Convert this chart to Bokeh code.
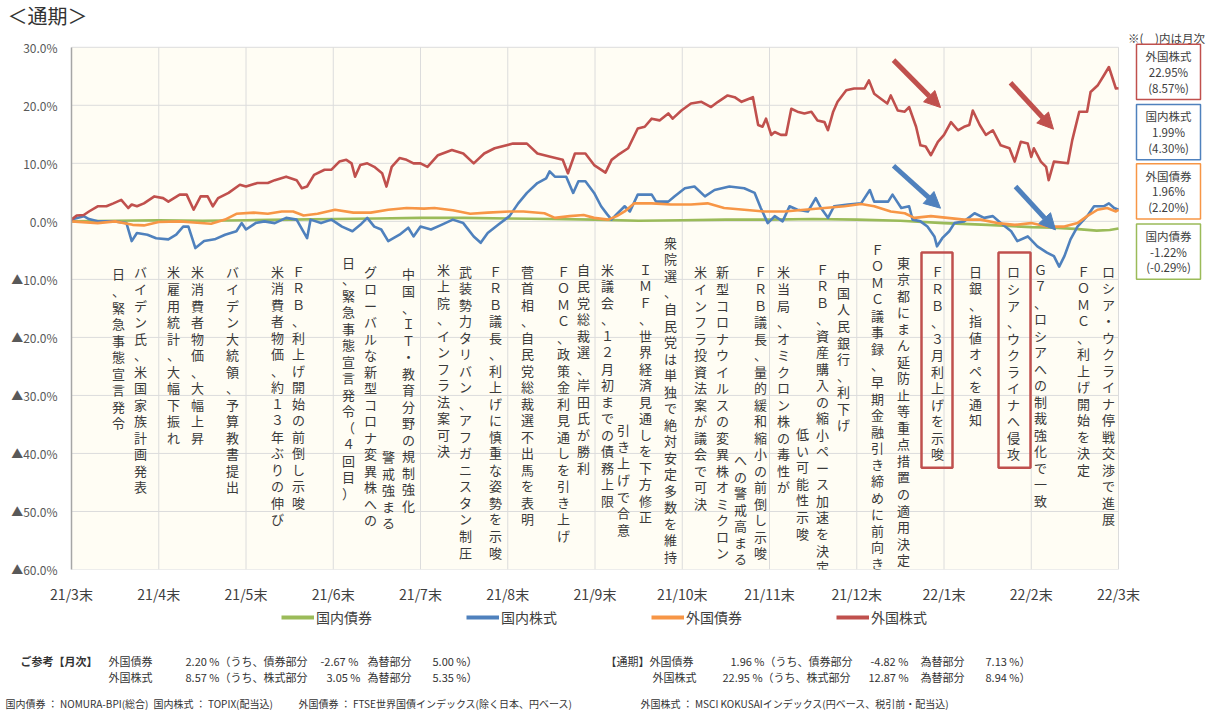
from bokeh.plotting import figure
from bokeh.layouts import column
from bokeh.models import (Range1d, FixedTicker, Arrow, NormalHead, Legend, LegendItem)
from bokeh.core.properties import value
from bokeh.embed import file_html
from bokeh.resources import INLINE

FONT = "Noto Sans CJK JP"

# ---------------- data ----------------
month_labels = ["21/3末", "21/4末", "21/5末", "21/6末", "21/7末", "21/8末", "21/9末",
                "21/10末", "21/11末", "21/12末", "22/1末", "22/2末", "22/3末"]
y_ticks = [30, 20, 10, 0, -10, -20, -30, -40, -50, -60]
y_tick_labels = ["30.0%", "20.0%", "10.0%", "0.0%", "▲10.0%", "▲20.0%", "▲30.0%",
                 "▲40.0%", "▲50.0%", "▲60.0%"]

# 外国株式 (red)
red_month = [0, 0.06, 0.14, 0.2, 0.3, 0.4, 0.48, 0.57, 0.65, 0.69, 0.75, 0.83, 0.95, 1.05, 1.11,
             1.24, 1.32, 1.4, 1.48, 1.56, 1.62, 1.68, 1.8, 1.93, 2.0, 2.13, 2.25, 2.33, 2.46, 2.58,
             2.64, 2.7, 2.78, 2.9, 2.98, 3.07, 3.15, 3.21, 3.25, 3.31, 3.39, 3.47, 3.56, 3.61, 3.67,
             3.76, 3.84, 3.92, 4.0, 4.08, 4.2, 4.36, 4.49, 4.61, 4.73, 4.85, 5.06, 5.22, 5.34, 5.5,
             5.63, 5.69, 5.77, 5.89, 5.99, 6.12, 6.19, 6.26, 6.38, 6.49, 6.57, 6.65, 6.74, 6.84,
             6.89, 6.99, 7.1, 7.22, 7.33, 7.41, 7.52, 7.6, 7.68, 7.81, 7.87, 7.92, 7.96, 8.02, 8.06,
             8.13, 8.19, 8.25, 8.32, 8.4, 8.48, 8.55, 8.63, 8.67, 8.73, 8.78, 8.88, 8.97, 9.09, 9.14,
             9.2, 9.28, 9.35, 9.39, 9.47, 9.55, 9.6, 9.68, 9.73, 9.79, 9.85, 9.93, 10.0, 10.08,
             10.16, 10.23, 10.29, 10.33, 10.41, 10.48, 10.56, 10.65, 10.75, 10.81, 10.88, 10.96,
             11.0, 11.03, 11.11, 11.17, 11.2, 11.26, 11.42, 11.47, 11.55, 11.64, 11.68, 11.76,
             11.83, 11.89, 11.97, 12.0]
red_pct = [0.3, 1.0, 1.1, 1.7, 2.6, 2.6, 3.1, 3.7, 2.3, 2.9, 2.6, 3.1, 4.3, 4.0, 3.4,
           4.6, 4.6, 2.0, 4.3, 4.3, 2.6, 4.0, 4.9, 6.3, 6.0, 6.6, 6.6, 7.1, 7.7, 7.1,
           5.7, 6.0, 8.0, 8.9, 8.9, 10.3, 10.6, 10.0, 7.7, 9.7, 10.0, 9.4, 8.3, 6.0, 9.4,
           10.9, 10.6, 10.0, 10.0, 9.4, 11.4, 12.3, 11.7, 10.0, 11.7, 12.6, 13.4, 13.4, 11.7, 11.1,
           10.6, 8.3, 11.7, 11.7, 9.7, 8.4, 10.6, 11.4, 12.6, 16.0, 16.3, 17.7, 17.4, 18.6,
           17.7, 19.1, 20.3, 20.6, 19.7, 20.6, 21.7, 21.4, 20.6, 21.4, 16.6, 16.3, 17.7, 14.9, 15.4,
           14.9, 14.9, 19.4, 18.9, 18.6, 18.9, 17.4, 17.1, 15.7, 18.9, 20.6, 22.6, 22.9, 22.9, 24.3,
           22.0, 21.1, 20.3, 21.7, 19.1, 18.9, 19.7, 16.3, 13.1, 12.9, 11.4, 13.7, 14.9, 17.1,
           15.7, 16.3, 16.6, 19.1, 16.6, 14.9, 15.7, 13.1, 12.6, 10.3, 13.7, 13.4,
           11.1, 12.6, 10.3, 9.4, 7.1, 10.3, 10.0, 14.0, 18.9, 18.9, 22.3, 23.4,
           25.1, 26.6, 22.9, 22.95]

# 国内株式 (blue)
blue_month = [0, 0.14, 0.2, 0.3, 0.5, 0.63, 0.69, 0.75, 0.87, 0.97, 1.11, 1.2, 1.28, 1.34, 1.42,
              1.52, 1.64, 1.76, 1.89, 1.95, 2.0, 2.11, 2.21, 2.33, 2.46, 2.58, 2.7, 2.74, 2.86,
              2.98, 3.1, 3.22, 3.31, 3.39, 3.47, 3.55, 3.63, 3.76, 3.86, 3.92, 4.0, 4.12, 4.24,
              4.37, 4.49, 4.61, 4.69, 4.77, 4.89, 5.02, 5.12, 5.22, 5.34, 5.44, 5.48, 5.54, 5.67,
              5.75, 5.81, 5.89, 5.99, 6.07, 6.14, 6.19, 6.24, 6.34, 6.4, 6.49, 6.65, 6.7, 6.84,
              6.91, 7.03, 7.14, 7.26, 7.37, 7.54, 7.71, 7.83, 7.9, 7.98, 8.06, 8.15, 8.23, 8.32,
              8.44, 8.53, 8.59, 8.67, 8.74, 8.9, 9.05, 9.15, 9.2, 9.36, 9.41, 9.51, 9.6, 9.64,
              9.73, 9.81, 9.89, 9.92, 9.98, 10.06, 10.12, 10.23, 10.35, 10.46, 10.56, 10.65,
              10.77, 10.84, 10.96, 11.07, 11.18, 11.26, 11.32, 11.38, 11.45, 11.53, 11.64, 11.72,
              11.83, 11.89, 11.95, 12.0]
blue_pct = [0.3, 0.9, 0.4, 0.0, 0.0, -0.3, -3.4, -2.0, -2.3, -2.9, -3.1, -2.3, -0.9, -0.9, -4.6,
            -3.4, -3.1, -2.3, -1.7, -0.3, -1.4, -0.3, 0.0, -0.3, 0.6, 0.3, -2.9, 0.3, -0.3,
            0.3, -0.9, -1.7, -0.6, 0.6, -0.9, -1.4, -3.4, -2.3, -1.1, -2.6, -0.9, -1.4, -0.6,
            0.3, -0.3, -2.6, -3.7, -2.0, -0.6, 0.9, 3.1, 4.9, 6.6, 7.4, 8.6, 7.7, 7.7,
            4.9, 6.9, 6.9, 4.9, 2.6, 1.2, 0.3, 1.1, 2.6, 1.7, 4.6, 4.6, 3.4, 3.4,
            4.3, 5.7, 6.0, 4.3, 5.4, 6.0, 5.7, 4.9, 2.3, -0.3, 0.9, 0.0, 2.6, 2.0,
            1.7, 4.0, 2.3, 0.6, 2.6, 2.9, 3.1, 5.4, 3.4, 3.4, 4.6, 2.3, 2.6, 0.3,
            0.0, -0.9, -2.6, -4.3, -2.9, -1.7, -0.3, 0.0, 1.4, 0.6, 0.9, -0.3,
            -1.7, -3.4, -2.6, -4.3, -5.4, -6.0, -7.8, -6.0, -3.1, -0.9, 0.9, 2.6,
            2.6, 3.1, 2.3, 1.99]

# 外国債券 (orange)
orange_month = [0, 0.3, 0.5, 0.7, 0.83, 1.0, 1.24, 1.4, 1.6, 1.76, 1.89, 2.09, 2.25, 2.41, 2.54,
                2.66, 2.82, 3.02, 3.23, 3.43, 3.63, 3.84, 4.04, 4.16, 4.37, 4.57, 4.77, 5.02,
                5.18, 5.42, 5.54, 5.71, 5.87, 5.99, 6.15, 6.25, 6.34, 6.45, 6.65, 6.87, 7.1,
                7.29, 7.48, 7.71, 7.94, 8.17, 8.4, 8.63, 8.86, 9.05, 9.2, 9.39, 9.55, 9.66,
                9.85, 10.04, 10.23, 10.42, 10.61, 10.81, 11.0, 11.18, 11.38, 11.53, 11.64,
                11.76, 11.87, 11.97, 12.0]
orange_pct = [0.0, -0.3, 0.0, -0.6, -0.7, -0.1, 0.0, -0.2, -0.4, 0.3, 1.3, 1.5, 1.3, 1.7, 1.7,
              1.0, 1.3, 2.0, 1.5, 1.5, 2.0, 2.3, 2.2, 2.3, 1.9, 1.3, 1.5, 1.7,
              1.7, 1.4, 0.6, 0.9, 1.1, 0.6, 0.3, 0.9, 1.7, 3.1, 3.1, 2.9, 2.9,
              3.1, 2.3, 2.0, 1.7, 1.7, 2.0, 2.3, 2.6, 3.0, 2.6, 1.7, 1.4, 0.6,
              0.9, 0.6, 0.3, 0.3, -0.3, -0.6, -0.3, -0.9, -0.9, -0.3, 0.9,
              2.0, 2.3, 1.7, 1.96]

# 国内債券 (green)
green_month = [0, 0.5, 1, 1.5, 2, 2.5, 3, 3.5, 4, 4.5, 5, 5.5, 6, 6.5, 7, 7.5, 8, 8.5, 9, 9.5,
               10, 10.5, 11, 11.25, 11.5, 11.75, 11.9, 12]
green_pct = [0.0, 0.1, 0.2, 0.1, 0.2, 0.3, 0.4, 0.5, 0.6, 0.6, 0.5, 0.4, 0.3, 0.1, 0.2, 0.3,
             0.3, 0.4, 0.3, 0.1, -0.3, -0.6, -1.0, -1.1, -1.3, -1.6, -1.5, -1.22]

series_names = ["国内債券", "国内株式", "外国債券", "外国株式"]
series_colors = ["#9BBB59", "#4F81BD", "#F79646", "#C0504D"]

# right-hand summary boxes: name, period return, (monthly return)
box_names = ["外国株式", "国内株式", "外国債券", "国内債券"]
box_period = ["22.95%", "1.99%", "1.96%", "-1.22%"]
box_month = ["(8.57%)", "(4.30%)", "(2.20%)", "(-0.29%)"]
box_colors = ["#C0504D", "#4F81BD", "#F79646", "#9BBB59"]

# event annotations (vertical text)
ann_texts = ["日、緊急事態宣言発令", "バイデン氏、米国家族計画発表", "米雇用統計、大幅下振れ",
             "米消費者物価、大幅上昇", "バイデン大統領、予算教書提出",
             "米消費者物価、約１３年ぶりの伸び", "ＦＲＢ、利上げ開始の前倒し示唆",
             "日、緊急事態宣言発令（４回目）", "グローバルな新型コロナ変異株への", "警戒強まる",
             "中国、ＩＴ・教育分野の規制強化", "米上院、インフラ法案可決",
             "武装勢力タリバン、アフガニスタン制圧", "ＦＲＢ議長、利上げに慎重な姿勢を示唆",
             "菅首相、自民党総裁選不出馬を表明", "ＦＯＭＣ、政策金利見通しを引き上げ",
             "自民党総裁選、岸田氏が勝利", "米議会、１２月初までの債務上限", "引き上げで合意",
             "ＩＭＦ、世界経済見通しを下方修正", "衆院選、自民党は単独で絶対安定多数を維持",
             "米インフラ投資法案が議会で可決", "新型コロナウイルスの変異株オミクロン",
             "への警戒高まる", "ＦＲＢ議長、量的緩和縮小の前倒し示唆",
             "米当局、オミクロン株の毒性が", "低い可能性示唆",
             "ＦＲＢ、資産購入の縮小ペース加速を決定", "中国人民銀行、利下げ",
             "ＦＯＭＣ議事録、早期金融引き締めに前向き", "東京都にまん延防止等重点措置の適用決定",
             "ＦＲＢ、３月利上げを示唆", "日銀、指値オペを通知", "ロシア、ウクライナへ侵攻",
             "Ｇ７、ロシアへの制裁強化で一致", "ＦＯＭＣ、利上げ開始を決定",
             "ロシア・ウクライナ停戦交渉で進展"]

# ---------------- layout geometry (canvas pixels) ----------------
W = 1225
HEAD_H, MAIN_H, FOOT_H = 30, 576, 106
L = 71                      # frame left
CH_TOP, CH_BOT, CH_RIGHT = 47, 576, 1118   # chart area in canvas px
X0, X1, Y0, Y1 = 0, 12, -60, 30
XS = (X1 - X0) / (CH_RIGHT - L)
YS = (Y1 - Y0) / (CH_BOT - CH_TOP)


def dx(px):
    return X0 + (px - L) * XS


def dy(py):
    return Y1 - (py - CH_TOP) * YS


ann_px = [118, 140, 173, 197, 232, 277, 298, 348, 370, 388, 408, 443, 465, 495, 527, 563, 583,
          607, 623, 645, 670, 700, 722, 740, 760, 783, 802, 822, 843, 877, 903, 937, 975, 1013,
          1040, 1083, 1108]
ann_top = [275, 273, 273, 273, 273, 272, 272, 263, 273, 460, 275, 270, 272, 272, 272, 272, 270,
           270, 433, 270, 243, 273, 273, 463, 273, 273, 437, 270, 277, 250, 263, 273, 272, 273,
           270, 272, 272]


def no_align(fig):
    if "frame_align" in fig.properties():
        fig.frame_align = False
    return fig


def blank_fig(h):
    fig = figure(width=W, height=h, x_range=Range1d(0, W), y_range=Range1d(h, 0),
                 output_backend="svg", toolbar_location=None,
                 x_axis_location=None, y_axis_location=None,
                 min_border_left=0, min_border_right=0, min_border_top=0, min_border_bottom=0,
                 background_fill_color="white", border_fill_color="white")
    fig.grid.visible = False
    fig.outline_line_color = None
    return no_align(fig)


# ---------------- header ----------------
head = blank_fig(HEAD_H)
head.text(x=[7], y=[15], text=["＜通期＞"], text_font=value(FONT), text_font_size="20px",
          text_color="#333333", text_align="left", text_baseline="middle")

# ---------------- main chart ----------------
p = figure(width=W, height=MAIN_H, x_range=Range1d(X0, dx(W)),
           y_range=Range1d(Y0, dy(HEAD_H)),
           output_backend="svg", toolbar_location=None,
           min_border_left=L, min_border_right=0, min_border_top=0, min_border_bottom=30,
           background_fill_color="white", border_fill_color="white")
no_align(p)
p.outline_line_color = None
p.grid.visible = False

p.xaxis.ticker = FixedTicker(ticks=list(range(13)))
p.xaxis.major_label_overrides = {i: s for i, s in enumerate(month_labels)}
p.yaxis.ticker = FixedTicker(ticks=y_ticks)
p.yaxis.major_label_overrides = {t: s for t, s in zip(y_ticks, y_tick_labels)}
p.yaxis.bounds = (Y0, Y1)
for ax in (p.xaxis[0], p.yaxis[0]):
    ax.major_tick_line_color = None
    ax.minor_tick_line_color = None
    ax.major_label_text_font = FONT
    ax.major_label_standoff = 8
p.xaxis.axis_line_color = None
p.yaxis.axis_line_color = "#A6A6A6"
p.yaxis.axis_line_width = 1.5
p.xaxis.major_label_text_font_size = "14px"
p.xaxis.major_label_text_color = "#404040"
p.yaxis.major_label_text_font_size = "12px"
p.yaxis.major_label_text_color = "#595959"

# plot-area background and grid
p.quad(left=[X0], right=[X1], bottom=[Y0], top=[Y1], fill_color="#FFFDF4", line_color=None)
p.segment(x0=list(range(13)), x1=list(range(13)), y0=[Y0] * 13, y1=[Y1] * 13,
          line_color="#DCDCDC", line_width=1)
p.segment(x0=[X0] * len(y_ticks), x1=[X1] * len(y_ticks), y0=y_ticks, y1=y_ticks,
          line_color="#DCDCDC", line_width=1)

# annotation text columns
vert = ["\n".join(list(s)) for s in ann_texts]
p.text(x=[dx(v) for v in ann_px], y=[dy(v - 8) for v in ann_top], text=vert,
       text_align="center", text_baseline="top", text_font=value(FONT),
       text_font_size="13px", text_color="#3A3A3A", text_line_height=0.87)

# series
data = [(green_month, green_pct), (blue_month, blue_pct),
        (orange_month, orange_pct), (red_month, red_pct)]
for (mx, vy), c in zip(data, series_colors):
    p.line(mx, vy, line_color=c, line_width=2.6, line_join="round")

# highlight boxes
p.quad(left=[dx(921), dx(998)], right=[dx(952), dx(1030)], top=[dy(255)] * 2,
       bottom=[dy(473)] * 2, fill_color=None, line_color="#C0504D", line_width=2.5)

# arrows
arrows = [(893, 60, 940, 108, "#C0504D"), (1010, 83, 1053, 130, "#C0504D"),
          (893, 167, 940, 210, "#4F81BD"), (1015, 188, 1055, 232, "#4F81BD")]
for x0, y0, x1, y1, c in arrows:
    p.add_layout(Arrow(end=NormalHead(size=16, fill_color=c, line_color=c),
                       x_start=dx(x0), y_start=dy(y0), x_end=dx(x1), y_end=dy(y1),
                       line_color=c, line_width=5))

# right summary boxes
p.text(x=[dx(1166)], y=[dy(38)], text=["※(　)内は月次"], text_font=value(FONT),
       text_font_size="11.5px", text_color="#404040", text_align="center",
       text_baseline="middle")
box_tops = [42, 103, 163, 224]
p.quad(left=[dx(1136)] * 4, right=[dx(1200)] * 4, top=[dy(t + 2) for t in box_tops],
       bottom=[dy(t + 58) for t in box_tops], fill_color="white", line_color=box_colors,
       line_width=1.5)
bx, by, bt = [], [], []
for i, t in enumerate(box_tops):
    for j, s in enumerate([box_names[i], box_period[i], box_month[i]]):
        bx.append(dx(1168))
        by.append(dy(t + 14 + 16 * j))
        bt.append(s)
p.text(x=bx, y=by, text=bt, text_font=value(FONT), text_font_size="11.5px",
       text_color="#404040", text_align="center", text_baseline="middle")

# ---------------- footer ----------------
foot = blank_fig(FOOT_H)
items = []
for name, c in zip(series_names, series_colors):
    r = foot.line([-100, -90], [-100, -100], line_color=c, line_width=4)
    items.append(LegendItem(label=name, renderers=[r]))
legend = Legend(items=items, orientation="horizontal", location=(281, 85), spacing=94,
                glyph_width=33, glyph_height=20, label_height=20, label_standoff=2,
                padding=0, margin=0, border_line_color=None, background_fill_alpha=0,
                label_text_font=FONT, label_text_font_size="14px",
                label_text_color="#404040")
foot.add_layout(legend)

notes_x = [20, 108, 185, 320, 367, 432,
           108, 185, 326, 367, 432,
           605, 730, 870, 920, 985,
           652, 722, 868, 920, 985,
           5, 153, 298, 640]
notes_y = [660] * 6 + [676] * 5 + [660] * 5 + [676] * 5 + [703] * 4
notes_text = ["ご参考【月次】", "外国債券", "2.20 %（うち、債券部分", "-2.67 %", "為替部分", "5.00 %）",
              "外国株式", "8.57 %（うち、株式部分", "3.05 %", "為替部分", "5.35 %）",
              "【通期】外国債券", "1.96 %（うち、債券部分", "-4.82 %", "為替部分", "7.13 %）",
              "外国株式", "22.95 %（うち、株式部分", "12.87 %", "為替部分", "8.94 %）",
              "国内債券 ： NOMURA-BPI(総合)", "国内株式 ： TOPIX(配当込)",
              "外国債券 ： FTSE世界国債インデックス(除く日本、円ベース)",
              "外国株式 ： MSCI KOKUSAIインデックス(円ベース、税引前・配当込)"]
base = MAIN_H + HEAD_H
foot.text(x=notes_x[:1], y=[notes_y[0] - base], text=notes_text[:1], text_font=value(FONT),
          text_font_size="11px", text_font_style="bold", text_color="#333333",
          text_align="left", text_baseline="middle")
foot.text(x=notes_x[1:21], y=[v - base for v in notes_y[1:21]], text=notes_text[1:21],
          text_font=value(FONT), text_font_size="11px", text_color="#333333",
          text_align="left", text_baseline="middle")
foot.text(x=notes_x[21:], y=[v - base for v in notes_y[21:]], text=notes_text[21:],
          text_font=value(FONT), text_font_size="10px", text_color="#333333",
          text_align="left", text_baseline="middle")

layout = column(head, p, foot, spacing=0)
open("out.html", "w").write(file_html(layout, INLINE))
